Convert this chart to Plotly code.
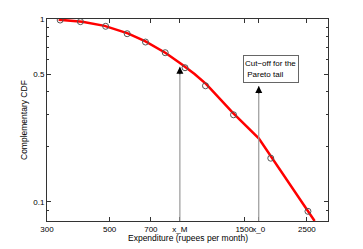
import numpy as np
import plotly.graph_objects as go

# Data
marker_x = [334, 394, 484, 577, 670, 787, 925, 1093, 1374, 1862, 2522]
marker_y = [0.987, 0.967, 0.912, 0.831, 0.748, 0.654, 0.541, 0.431, 0.299, 0.173, 0.0886]

curve_x = [330, 400, 480, 580, 670, 790, 900, 1000, 1100, 1370, 1688, 2663]
curve_y = [0.992, 0.965, 0.917, 0.835, 0.754, 0.652, 0.565, 0.500, 0.440, 0.305, 0.222, 0.0784]

x_M = 887
x_0 = 1688
tip_M = 0.548
tip_0 = 0.43

xtick_vals = [300, 500, 700, x_M, 1500, x_0, 2500]
xtick_text = ["300", "500", "700", "x_M", "1500", "x_0", "2500"]
ytick_vals = [0.1, 0.5, 1]
ytick_text = ["0.1", "0.5", "1"]
yminor_vals = [0.09, 0.2, 0.3, 0.4, 0.6, 0.7, 0.8, 0.9]

x_range = [300, 2970]
y_range = [0.0784, 1.0]

x_title = "Expenditure (rupees per month)"
y_title = "Complementary CDF"

FONT = "Liberation Sans, Arial, sans-serif"

fig = go.Figure()
fig.add_trace(go.Scatter(x=curve_x, y=curve_y, mode="lines",
                         line=dict(color="#ff0000", width=2.5), hoverinfo="skip"))
fig.add_trace(go.Scatter(x=marker_x, y=marker_y, mode="markers",
                         marker=dict(symbol="circle-open", size=6, color="#555555",
                                     line=dict(width=1, color="#555555"))))

# vertical arrow shafts
for xv, tip in [(x_M, tip_M), (x_0, tip_0)]:
    fig.add_shape(type="line", xref="x", yref="y", x0=xv, x1=xv,
                  y0=y_range[0], y1=tip, line=dict(color="#999999", width=1.2))
    fig.add_annotation(x=np.log10(xv), y=np.log10(tip), ax=0, ay=9,
                       showarrow=True, arrowhead=2, arrowsize=1.4, arrowwidth=1,
                       arrowcolor="#000000", text="", standoff=0)

fig.add_annotation(x=np.log10(1862), y=np.log10(0.532), xref="x", yref="y",
                   text="Cut\u2212off for the<br>&nbsp;Pareto tail", showarrow=False,
                   align="left", bordercolor="#666666", borderwidth=1,
                   bgcolor="white", width=52, height=24, valign="middle",
                   font=dict(family=FONT, size=8, color="#000"))

# axis titles as annotations for exact placement
fig.add_annotation(x=0.5, y=0, xref="paper", yref="paper", text=x_title,
                   showarrow=False, yanchor="middle", yshift=-17,
                   font=dict(family=FONT, size=8.5, color="#000"))
fig.add_annotation(x=0, y=0.5, xref="paper", yref="paper", text=y_title,
                   showarrow=False, xanchor="center", xshift=-23, textangle=-90,
                   font=dict(family=FONT, size=8.5, color="#000"))

axis_common = dict(showline=True, linecolor="#333333", linewidth=1, mirror="ticks",
                   ticks="inside", ticklen=4, tickcolor="#333333", showgrid=False,
                   zeroline=False, automargin=False, tickangle=0,
                   tickfont=dict(family=FONT, size=8, color="#000"))

fig.update_xaxes(type="log", range=[np.log10(x_range[0]), np.log10(x_range[1])],
                 tickvals=xtick_vals, ticktext=xtick_text, **axis_common)
fig.update_yaxes(type="log", range=[np.log10(y_range[0]), np.log10(y_range[1])],
                 tickvals=ytick_vals, ticktext=ytick_text,
                 minor=dict(tickvals=yminor_vals, ticks="inside", ticklen=2,
                            tickcolor="#333333", showgrid=False),
                 **axis_common)

# The page body adds an 8px offset; size the figure so the plot area lands
# where it is in the reference.
fig.update_layout(width=355, height=241, showlegend=False,
                  margin=dict(l=39, r=35, t=11, b=28),
                  plot_bgcolor="white", paper_bgcolor="white")

fig.write_html("out.html")
